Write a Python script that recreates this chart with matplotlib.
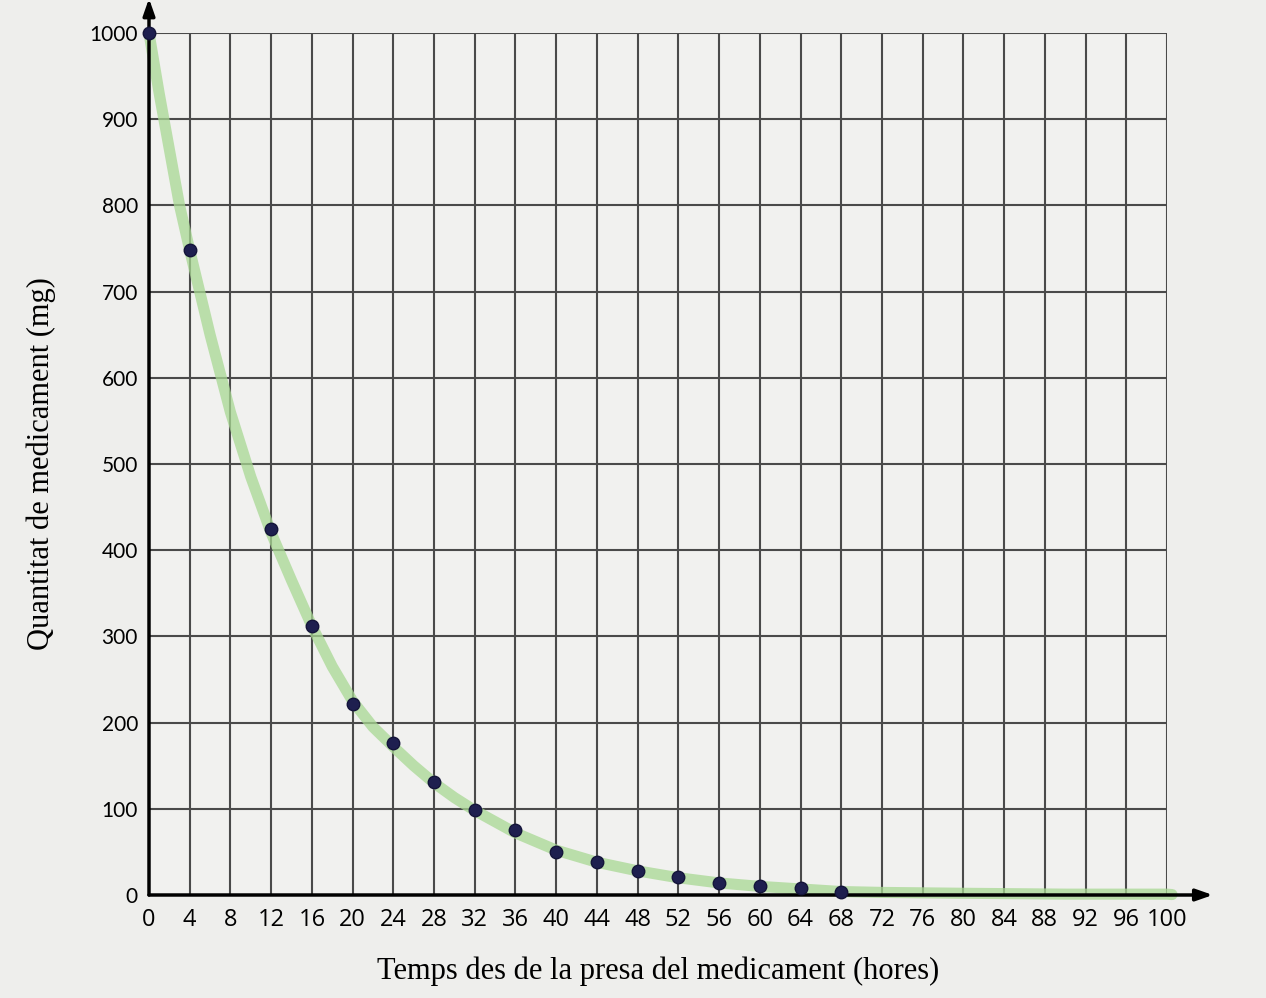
import matplotlib
matplotlib.use("Agg")
import matplotlib.pyplot as plt

# measured points (hours, mg)
hours = [0, 4, 12, 16, 20, 24, 28, 32, 36, 40, 44, 48, 52, 56, 60, 64, 68]
amount = [1000, 748, 425, 312, 221, 176, 131, 99, 75, 50, 38, 28, 21, 14, 11, 8, 3]

# hand-drawn green trend curve
curve_hours = [0, 1, 2, 3, 4, 6, 8, 10, 12, 14, 16, 18, 20, 22, 24, 26, 28, 30, 32, 36,
               40, 44, 48, 52, 56, 60, 64, 68, 72, 80, 90, 100, 100.5]
curve_amount = [1000, 930, 865, 800, 748, 650, 560, 485, 420, 365, 312, 265, 225, 195, 172,
                150, 130, 113, 98, 72, 52, 38, 28, 20, 14, 10, 7, 4, 3, 2, 1, 1, 0.5]

x_ticks = list(range(0, 101, 4))
y_ticks = list(range(0, 1001, 100))

W, H = 1266, 998
fig = plt.figure(figsize=(W / 100, H / 100), dpi=100)
fig.patch.set_facecolor("#eeeeec")

x0, x1 = 149, 1167
y0, y1 = 895, 33
ax = fig.add_axes([x0 / W, 1 - y0 / H, (x1 - x0) / W, (y0 - y1) / H])
ax.set_facecolor("#f1f1ef")
ax.set_xlim(0, 100)
ax.set_ylim(0, 1000)

for s in ax.spines.values():
    s.set_visible(False)

# grid
for xv in x_ticks[1:]:
    ax.plot([xv, xv], [0, 1000], color="#4a4a4a", lw=1.5, zorder=1)
for yv in y_ticks[1:]:
    ax.plot([0, 100], [yv, yv], color="#4a4a4a", lw=1.5, zorder=1)

# axes with arrows
ax.annotate("", xy=(104.5, 0), xytext=(0, 0), xycoords="data",
            arrowprops=dict(arrowstyle="-|>,head_length=1.0,head_width=0.35", lw=2.5, color="black",
                            shrinkA=0, shrinkB=0), annotation_clip=False, zorder=5)
ax.annotate("", xy=(0, 1040), xytext=(0, 0), xycoords="data",
            arrowprops=dict(arrowstyle="-|>,head_length=1.0,head_width=0.35", lw=2.5, color="black",
                            shrinkA=0, shrinkB=0), annotation_clip=False, zorder=5)

# green curve
ax.plot(curve_hours, curve_amount, color="#a8d893", lw=8, alpha=0.75, solid_capstyle="round",
        zorder=3, clip_on=False)

# points
ax.plot(hours, amount, "o", color="#1e1f4f", markersize=9, markeredgecolor="#14143a",
        zorder=6, clip_on=False)

ax.set_xticks(x_ticks)
ax.set_yticks(y_ticks)
ax.set_xticklabels([str(v) for v in x_ticks], fontsize=17, family="Open Sans")
ax.set_yticklabels([str(v) for v in y_ticks], fontsize=15, family="Lato")
ax.tick_params(axis="x", length=0, pad=9)
ax.tick_params(axis="y", length=0, pad=8)

ax.set_xlabel("Temps des de la presa del medicament (hores)", fontsize=22,
              family="Liberation Serif", labelpad=18)
ax.set_ylabel("Quantitat de medicament (mg)", fontsize=22,
              family="Liberation Serif", labelpad=24)

fig.savefig("out.png", dpi=100, facecolor=fig.get_facecolor())
